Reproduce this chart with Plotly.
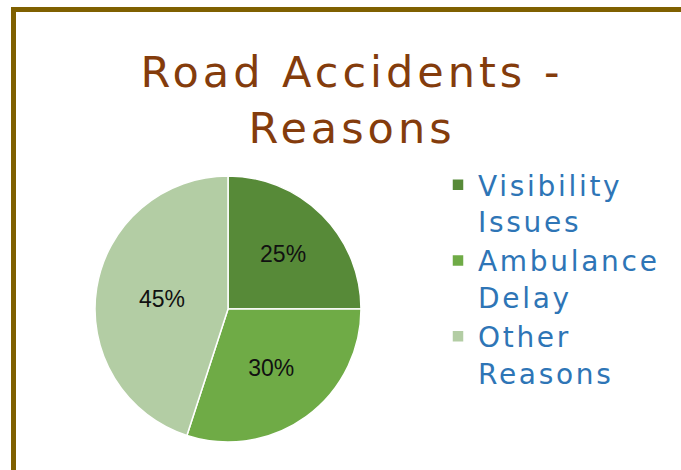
import plotly.graph_objects as go

labels = ["Visibility<br>Issues", "Ambulance<br>Delay", "Other<br>Reasons"]
values = [25, 30, 45]
colors = ["#578a38", "#6fab46", "#b3cda4"]

W, H = 681, 470

fig = go.Figure()
fig.add_trace(go.Pie(
    labels=labels,
    values=values,
    sort=False,
    direction="clockwise",
    rotation=0,
    marker=dict(colors=colors, line=dict(color="white", width=1.5)),
    textinfo="percent",
    textposition="inside",
    insidetextorientation="horizontal",
    textfont=dict(family="Liberation Sans Narrow, Liberation Sans, Arial", size=23, color="#111111"),
    domain=dict(x=[95 / W, 361 / W], y=[1 - 442 / H, 1 - 176 / H]),
    hoverinfo="label+percent",
))

fig.update_layout(
    width=W,
    height=H,
    margin=dict(l=0, r=0, t=0, b=0),
    paper_bgcolor="white",
    plot_bgcolor="white",
    title=dict(
        text="Road Accidents -<br>Reasons",
        x=352 / W,
        xanchor="center",
        y=1 - 87 / H,
        yanchor="top",
        font=dict(family="DejaVu Sans", size=43, color="#843c0c"),
    ),
    legend=dict(
        x=438 / W,
        y=1 - 160 / H,
        xanchor="left",
        yanchor="top",
        valign="top",
        font=dict(family="DejaVu Sans", size=28, color="#2e75b6"),
        bgcolor="rgba(0,0,0,0)",
    ),
    shapes=[
        dict(
            type="path",
            xref="paper",
            yref="paper",
            path=f"M {13.5 / W},0 L {13.5 / W},{1 - 9.5 / H} L 1,{1 - 9.5 / H}",
            line=dict(color="#7f6000", width=5),
        )
    ],
)

post = (
    "document.body.style.margin='0';"
    "document.querySelectorAll('text.gtitle').forEach(function(e){e.style.letterSpacing='4px';});"
    "document.querySelectorAll('text.legendtext').forEach(function(e){e.style.letterSpacing='2.7px';});"
    "document.querySelectorAll('.legend, .legend [clip-path]').forEach(function(e){e.removeAttribute('clip-path');});"
)

fig.write_html("out.html", post_script=post, config={"displayModeBar": False})
